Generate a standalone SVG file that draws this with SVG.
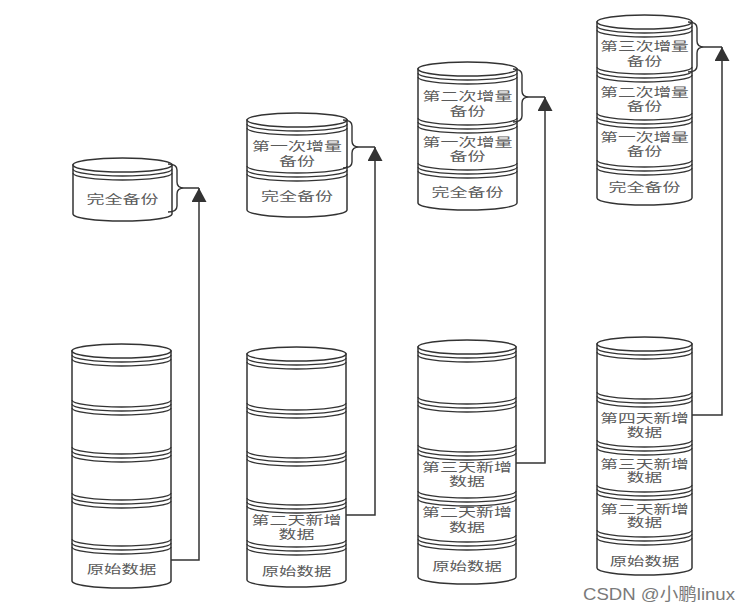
<svg xmlns="http://www.w3.org/2000/svg" width="756" height="607" viewBox="0 0 756 607">
<style>
.s{fill:#fff;stroke:#333;stroke-width:1.5}
.a{fill:none;stroke:#333;stroke-width:1.3}
.b{fill:none;stroke:#333;stroke-width:1.4}
.c{fill:none;stroke:#333;stroke-width:1.5}
.t{font-family:"Liberation Sans","Noto Sans CJK SC",sans-serif;font-size:12px;fill:#5a5a5a;text-anchor:middle}
.w{font-family:"Liberation Sans","Noto Sans CJK SC",sans-serif;font-size:17px;fill:#7a7a7a}
</style>
<defs>
<marker id="ah" markerUnits="userSpaceOnUse" markerWidth="15" markerHeight="15" refX="14" refY="7.5" orient="auto">
<path d="M0,0 L14,7.5 L0,15 Z" fill="#333"/>
</marker>
</defs>
<rect width="756" height="607" fill="#fff"/>

<g id="connectors">
<path class="c" d="M171,560 H199 V188" marker-end="url(#ah)"/>
<path class="c" d="M346,515 H375 V147" marker-end="url(#ah)"/>
<path class="c" d="M516,463 H545 V97" marker-end="url(#ah)"/>
<path class="c" d="M692,415 H722 V47" marker-end="url(#ah)"/>
</g>

<!-- Column 1 -->
<g id="stack1-backup">
<path class="s" d="M73,165 V214 A49.5,7 0 0 0 172,214 V165 Z"/>
<ellipse class="s" cx="122.5" cy="165" rx="49.5" ry="7"/>
<path class="a" d="M73,169 A49.5,7 0 0 0 172,169 M73,173 A49.5,7 0 0 0 172,173"/>
<text class="t" transform="translate(122.5 0) scale(1.5 1)" x="0" y="204.5">完全备份</text>
</g>
<g id="stack1-data">
<path class="s" d="M72,351 V581 A49.5,7 0 0 0 171,581 V351 Z"/>
<ellipse class="s" cx="121.5" cy="351" rx="49.5" ry="7"/>
<path class="a" d="M72,355 A49.5,7 0 0 0 171,355 M72,359 A49.5,7 0 0 0 171,359
M72,400 A49.5,7 0 0 0 171,400 M72,404 A49.5,7 0 0 0 171,404 M72,408 A49.5,7 0 0 0 171,408
M72,447 A49.5,7 0 0 0 171,447 M72,451 A49.5,7 0 0 0 171,451 M72,455 A49.5,7 0 0 0 171,455
M72,493 A49.5,7 0 0 0 171,493 M72,497 A49.5,7 0 0 0 171,497 M72,501 A49.5,7 0 0 0 171,501
M72,539 A49.5,7 0 0 0 171,539 M72,543 A49.5,7 0 0 0 171,543 M72,547 A49.5,7 0 0 0 171,547"/>
<text class="t" transform="translate(121.5 0) scale(1.45 1)" x="0" y="574.5">原始数据</text>
</g>

<!-- Column 2 -->
<g id="stack2-backup">
<path class="s" d="M247,120 V210 A50,7 0 0 0 347,210 V120 Z"/>
<ellipse class="s" cx="297" cy="120" rx="50" ry="7"/>
<path class="a" d="M247,124 A50,7 0 0 0 347,124 M247,128 A50,7 0 0 0 347,128
M247,166 A50,7 0 0 0 347,166 M247,170 A50,7 0 0 0 347,170 M247,174 A50,7 0 0 0 347,174"/>
<text class="t" transform="translate(297 0) scale(1.5 1)"><tspan x="0" y="151.5">第一次增量</tspan><tspan x="0" y="166.5">备份</tspan></text>
<text class="t" transform="translate(297 0) scale(1.5 1)" x="0" y="201.5">完全备份</text>
</g>
<g id="stack2-data">
<path class="s" d="M247,354 V580 A49.5,7 0 0 0 346,580 V354 Z"/>
<ellipse class="s" cx="296.5" cy="354" rx="49.5" ry="7"/>
<path class="a" d="M247,358 A49.5,7 0 0 0 346,358 M247,362 A49.5,7 0 0 0 346,362
M247,403 A49.5,7 0 0 0 346,403 M247,407 A49.5,7 0 0 0 346,407 M247,411 A49.5,7 0 0 0 346,411
M247,451 A49.5,7 0 0 0 346,451 M247,455 A49.5,7 0 0 0 346,455 M247,459 A49.5,7 0 0 0 346,459
M247,498 A49.5,7 0 0 0 346,498 M247,502 A49.5,7 0 0 0 346,502 M247,506 A49.5,7 0 0 0 346,506
M247,540 A49.5,7 0 0 0 346,540 M247,544 A49.5,7 0 0 0 346,544 M247,548 A49.5,7 0 0 0 346,548"/>
<text class="t" transform="translate(296.5 0) scale(1.5 1)"><tspan x="0" y="525.5">第二天新增</tspan><tspan x="0" y="539.5">数据</tspan></text>
<text class="t" transform="translate(296.5 0) scale(1.45 1)" x="0" y="576.5">原始数据</text>
</g>

<!-- Column 3 -->
<g id="stack3-backup">
<path class="s" d="M418,69 V203 A49.5,7 0 0 0 517,203 V69 Z"/>
<ellipse class="s" cx="467.5" cy="69" rx="49.5" ry="7"/>
<path class="a" d="M418,73 A49.5,7 0 0 0 517,73 M418,77 A49.5,7 0 0 0 517,77
M418,118 A49.5,7 0 0 0 517,118 M418,122 A49.5,7 0 0 0 517,122 M418,126 A49.5,7 0 0 0 517,126
M418,163 A49.5,7 0 0 0 517,163 M418,167 A49.5,7 0 0 0 517,167 M418,171 A49.5,7 0 0 0 517,171"/>
<text class="t" transform="translate(467.5 0) scale(1.5 1)"><tspan x="0" y="101.5">第二次增量</tspan><tspan x="0" y="116.5">备份</tspan></text>
<text class="t" transform="translate(467.5 0) scale(1.5 1)"><tspan x="0" y="147.5">第一次增量</tspan><tspan x="0" y="161.5">备份</tspan></text>
<text class="t" transform="translate(467.5 0) scale(1.5 1)" x="0" y="197.5">完全备份</text>
</g>
<g id="stack3-data">
<path class="s" d="M418,347 V577 A49,7 0 0 0 516,577 V347 Z"/>
<ellipse class="s" cx="467" cy="347" rx="49" ry="7"/>
<path class="a" d="M418,351 A49,7 0 0 0 516,351 M418,355 A49,7 0 0 0 516,355
M418,397 A49,7 0 0 0 516,397 M418,401 A49,7 0 0 0 516,401 M418,405 A49,7 0 0 0 516,405
M418,445 A49,7 0 0 0 516,445 M418,449 A49,7 0 0 0 516,449 M418,453 A49,7 0 0 0 516,453
M418,491 A49,7 0 0 0 516,491 M418,495 A49,7 0 0 0 516,495 M418,499 A49,7 0 0 0 516,499
M418,535 A49,7 0 0 0 516,535 M418,539 A49,7 0 0 0 516,539 M418,543 A49,7 0 0 0 516,543"/>
<text class="t" transform="translate(467 0) scale(1.5 1)"><tspan x="0" y="472.5">第三天新增</tspan><tspan x="0" y="486.5">数据</tspan></text>
<text class="t" transform="translate(467 0) scale(1.5 1)"><tspan x="0" y="517.5">第二天新增</tspan><tspan x="0" y="532.5">数据</tspan></text>
<text class="t" transform="translate(467 0) scale(1.45 1)" x="0" y="571.5">原始数据</text>
</g>

<!-- Column 4 -->
<g id="stack4-backup">
<path class="s" d="M597,22 V198 A47.5,7 0 0 0 692,198 V22 Z"/>
<ellipse class="s" cx="644.5" cy="22" rx="47.5" ry="7"/>
<path class="a" d="M597,26 A47.5,7 0 0 0 692,26 M597,30 A47.5,7 0 0 0 692,30
M597,67 A47.5,7 0 0 0 692,67 M597,71 A47.5,7 0 0 0 692,71 M597,75 A47.5,7 0 0 0 692,75
M597,113 A47.5,7 0 0 0 692,113 M597,117 A47.5,7 0 0 0 692,117 M597,121 A47.5,7 0 0 0 692,121
M597,160 A47.5,7 0 0 0 692,160 M597,164 A47.5,7 0 0 0 692,164 M597,168 A47.5,7 0 0 0 692,168"/>
<text class="t" transform="translate(644.5 0) scale(1.48 1)"><tspan x="0" y="51.5">第三次增量</tspan><tspan x="0" y="66.5">备份</tspan></text>
<text class="t" transform="translate(644.5 0) scale(1.48 1)"><tspan x="0" y="97.5">第二次增量</tspan><tspan x="0" y="111.5">备份</tspan></text>
<text class="t" transform="translate(644.5 0) scale(1.48 1)"><tspan x="0" y="142.5">第一次增量</tspan><tspan x="0" y="156.5">备份</tspan></text>
<text class="t" transform="translate(644.5 0) scale(1.5 1)" x="0" y="192.5">完全备份</text>
</g>
<g id="stack4-data">
<path class="s" d="M597,344 V568 A47.5,7 0 0 0 692,568 V344 Z"/>
<ellipse class="s" cx="644.5" cy="344" rx="47.5" ry="7"/>
<path class="a" d="M597,348 A47.5,7 0 0 0 692,348 M597,352 A47.5,7 0 0 0 692,352
M597,392 A47.5,7 0 0 0 692,392 M597,396 A47.5,7 0 0 0 692,396 M597,400 A47.5,7 0 0 0 692,400
M597,440 A47.5,7 0 0 0 692,440 M597,444 A47.5,7 0 0 0 692,444 M597,448 A47.5,7 0 0 0 692,448
M597,485 A47.5,7 0 0 0 692,485 M597,489 A47.5,7 0 0 0 692,489 M597,493 A47.5,7 0 0 0 692,493
M597,530 A47.5,7 0 0 0 692,530 M597,534 A47.5,7 0 0 0 692,534 M597,538 A47.5,7 0 0 0 692,538"/>
<text class="t" transform="translate(644.5 0) scale(1.48 1)"><tspan x="0" y="423.5">第四天新增</tspan><tspan x="0" y="437.5">数据</tspan></text>
<text class="t" transform="translate(644.5 0) scale(1.48 1)"><tspan x="0" y="469.5">第三天新增</tspan><tspan x="0" y="482.5">数据</tspan></text>
<text class="t" transform="translate(644.5 0) scale(1.48 1)"><tspan x="0" y="514.5">第二天新增</tspan><tspan x="0" y="527.5">数据</tspan></text>
<text class="t" transform="translate(644.5 0) scale(1.45 1)" x="0" y="566.5">原始数据</text>
</g>

<g id="braces">
<path class="b" d="M168,164 Q177,164 177,170 V182 Q177,188 184,188 Q177,188 177,194 V206 Q177,212 168,212 M184,188 H199"/>
<path class="b" d="M343,120 Q352,120 352,126 V141 Q352,147 359,147 Q352,147 352,153 V162 Q352,168 343,168 M359,147 H375"/>
<path class="b" d="M513,69 Q522,69 522,75 V91 Q522,97 529,97 Q522,97 522,103 V116 Q522,122 513,122 M529,97 H545"/>
<path class="b" d="M688,22 Q697,22 697,28 V41 Q697,47 704,47 Q697,47 697,53 V66 Q697,72 688,72 M704,47 H722"/>
</g>

<text class="w" x="583" y="600" textLength="152" lengthAdjust="spacingAndGlyphs">CSDN @小鹏linux</text>
</svg>
